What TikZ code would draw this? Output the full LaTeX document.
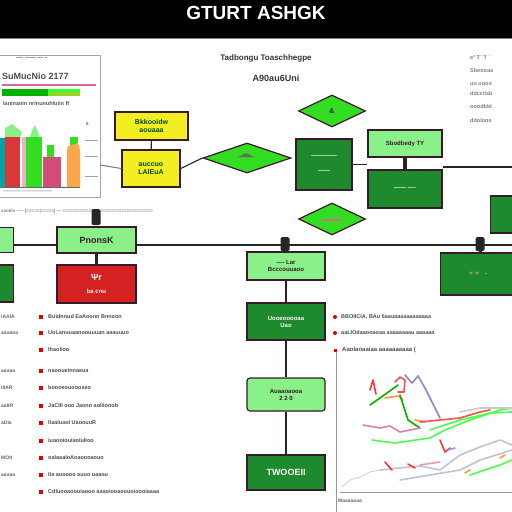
\documentclass[tikz,border=0pt]{standalone}
\usepackage{fontspec}
\setmainfont{Liberation Sans}
\usetikzlibrary{shapes.geometric}
\definecolor{dg}{HTML}{1E8A2E}
\definecolor{lg}{HTML}{8AF08A}
\definecolor{brg}{HTML}{33DD22}
\definecolor{yb}{HTML}{F2EE22}
\definecolor{rb}{HTML}{D42222}
\definecolor{bd}{HTML}{3A1A2A}
\definecolor{tx}{HTML}{555555}
\tikzset{
 darkbox/.style={draw=bd,line width=1.2pt,fill=dg,text=white!85!pink,font=\bfseries\fontsize{6}{7}\selectfont,align=center,inner sep=0pt},
 lightbox/.style={draw=bd,line width=1.2pt,fill=lg,text=bd,font=\bfseries\fontsize{6}{7}\selectfont,align=center,inner sep=0pt},
 yelbox/.style={draw=bd,line width=1.4pt,fill=yb,text=black!70!green,font=\bfseries\fontsize{7}{8}\selectfont,align=center,inner sep=0pt},
 redbox/.style={draw=bd,line width=1.2pt,fill=rb,text=white!85!pink,font=\bfseries\fontsize{6}{7}\selectfont,align=center,inner sep=0pt},
 dia/.style={diamond,draw=bd,line width=1.2pt,fill=brg,inner sep=0pt,aspect=2.7},
 conn/.style={draw=black!85,line width=1.1pt},
 smalltx/.style={text=tx,font=\bfseries\fontsize{5.5}{6}\selectfont,anchor=west,inner sep=0pt},
 bullet/.style={fill=red!90!black,minimum size=4pt,inner sep=0pt},
 tab/.style={fill=black!85,rounded corners=1.5pt,minimum width=9pt,minimum height=14pt,inner sep=0pt},
}
\begin{document}
\begin{tikzpicture}[x=1pt,y=-1pt]
\useasboundingbox (0,0) rectangle (512,512);
\fill[white] (0,0) rectangle (512,512);
% title band
\fill[black] (0,0) rectangle (512,38);
\draw[gray,line width=0.8pt] (0,38.5) -- (512,38.5);
\node[text=white,font=\bfseries\fontsize{19}{19}\selectfont] (title) at (256,13) {GTURT ASHGK};
% header text
\node[text=black!80,font=\bfseries\fontsize{8}{9}\selectfont] (h1) at (266,58) {Tadbongu Toaschhegpe};
\node[text=black!80,font=\bfseries\fontsize{9}{10}\selectfont] (h2) at (276,78) {A90au6Uni};
% top-left chart panel
\draw[gray!70,line width=0.8pt] (-1,55) rectangle (100,197);
\node[smalltx] (c1) at (16,59) {----  ------  --- --};
\node[smalltx,text=black!70,font=\bfseries\fontsize{9}{9}\selectfont] (c2) at (2,76) {SuMucNio 2177};
\fill[purple!60] (2,84) rectangle (96,86);
\fill[green!70!black] (2,89) rectangle (48,96);
\fill[green!80] (48,89) rectangle (80,96);
\fill[yellow!60!green] (50,92) rectangle (80,96);
\node[smalltx] (c3) at (3,104) {Ianinanin nrinunuhluiin ff};
\node[smalltx] (c4) at (86,124) {ε};
\draw[gray!70] (85,140) -- (98,140) (85,156) -- (98,156) (85,176) -- (98,176);
\fill[teal!70!cyan] (0,138) rectangle (5,187);
\fill[lg] (5,128) -- (12,124) -- (22,132) -- (20,138) -- (5,138) -- cycle;
\fill[rb!90] (5,137) rectangle (20,187);
\fill[purple!30] (22,137) rectangle (26,187);
\fill[lg] (30,138) -- (32,130) -- (35,125) -- (38,132) -- (40,138) -- cycle;
\fill[brg] (26,137) rectangle (42,187);
\fill[brg] (47,145) rectangle (54,157);
\fill[purple!70] (43,157) rectangle (61,187);
\fill[brg] (70,137) rectangle (78,145);
\fill[orange!70] (67,150) -- (68,146) -- (78,143) -- (80,150) -- (80,187) -- (67,187) -- cycle;
\draw[black!60] (0,187.5) -- (80,187.5);
\node[smalltx,font=\bfseries\fontsize{4}{4}\selectfont] (c5) at (3,192) {-------------------------------------};
% yellow boxes
\node[yelbox,minimum width=73pt,minimum height=28pt] (y1) at (151.5,126) {Bkkooidw\\aouaaa};
\node[yelbox,minimum width=58pt,minimum height=37pt] (y2) at (151,168.5) {auccuo\\LAlEuA};
\draw[conn] (y1) -- (y2);
\coordinate (pr) at (100,165);
\draw[conn,gray] (pr) -- (y2.west);
% diamonds
\node[dia,minimum width=88pt,minimum height=30pt] (d1) at (247,158) {};
\fill[bd!70] (238,157) -- (246,153) -- (254,157) -- cycle;
\node[dia,minimum width=67pt,minimum height=32pt,font=\bfseries\fontsize{7}{7}\selectfont,text=bd] (d2) at (332,111) {\&};
\node[dia,minimum width=67pt,minimum height=32pt] (d3) at (332,219) {};
\fill[purple!60] (322,219) rectangle (342,221);
\draw[conn] (y2.east) -- (d1.west);
% dark green square box
\node[darkbox,minimum width=56pt,minimum height=51pt] (g1) at (324,164.5) {-------------\\[8pt]------};
% right top boxes
\node[lightbox,minimum width=74pt,minimum height=27pt] (l1) at (405,143.5) {Sbodbedy TY};
\node[darkbox,minimum width=74pt,minimum height=38pt] (g2) at (405,189) {------ ----};
\draw[bd,line width=4pt] (l1.south) -- (g2.north);
\coordinate (rt) at (512,167);
\draw[conn] (g1.east) -- (g2.west |- g1.east);
\draw[conn] (g2.north east |- rt) -- (rt);
\node[darkbox,minimum width=30pt,minimum height=37pt,anchor=west] (g3) at (490,214.5) {};
% top right text
\node[smalltx,text=gray] (r1) at (470,57) {e˟ T˙˙T ˙};
\node[smalltx,text=gray] (r2) at (470,71) {Sbeooaa};
\node[smalltx,text=gray] (r3) at (470,84) {uo uooo};
\node[smalltx,text=gray] (r4) at (470,94) {ddcciisb};
\node[smalltx,text=gray] (r5) at (470,107) {ooodbbl};
\node[smalltx,text=gray] (r6) at (470,121) {ddoIoos};
% grey line of text
\node[smalltx,text=gray,font=\bfseries\fontsize{4.5}{5}\selectfont] (gl) at (1,211) {ssoliin ----- [=====|=====]  --- ==============  ====================};
% main horizontal line
\coordinate (ml) at (0,245);
\coordinate (mr) at (512,245);
\draw[conn] (ml) -- (mr);
\node[tab,minimum height=16pt] (t1) at (96,217) {};
\node[tab] (t2) at (285,244) {};
\node[tab] (t3) at (480,244) {};
% left column
\node[lightbox,minimum width=14pt,minimum height=25pt,anchor=west] (l0) at (-1,240) {};
\node[darkbox,minimum width=14pt,minimum height=37pt,anchor=west] (g0) at (-1,283.5) {};
\node[lightbox,minimum width=79pt,minimum height=26pt,font=\bfseries\fontsize{9}{9}\selectfont] (l2) at (96.5,240) {PnonsK};
\node[redbox,minimum width=79pt,minimum height=38pt] (r0) at (96.5,284) {{\fontsize{9}{9}\selectfont Ψr}\\[6pt]ba cnu};
\draw[bd,line width=3pt] (l2.south) -- (r0.north);
% center column
\node[lightbox,minimum width=78pt,minimum height=28pt] (l3) at (286,266) {---- Lar\\Bcccouuaoo};
\node[darkbox,minimum width=78pt,minimum height=37pt] (g4) at (286,321.5) {Uooeooooaa\\Uao};
\node[lightbox,minimum width=78pt,minimum height=33pt,rounded corners=3pt,text=bd] (l4) at (286,394.5) {Auaaoaooa\\2 2 0};
\node[darkbox,minimum width=78pt,minimum height=35pt,font=\bfseries\fontsize{9}{9}\selectfont] (g5) at (286,472.5) {TWOOEII};
\draw[bd,line width=2.5pt] (t2) -- (l3.north);
\draw[bd,line width=2.5pt] (l3.south) -- (g4.north);
\draw[bd,line width=1.5pt] (g4.south) -- (l4.north);
\draw[bd,line width=1.5pt] (l4.south) -- (g5.north);
% right box
\node[darkbox,minimum width=75pt,minimum height=42pt,anchor=west] (g6) at (440,274) {\textcolor{pink!80!gray}{=\;\,=\quad -}};
\draw[bd,line width=3pt] (t3) -- (g6.north -| t3);
% bullets left
\foreach \y/\t [count=\i] in {317/Buidnnud  EaAoonn Bnnoon,333/UoLanuuaanoouuuan aaauuuo,350/Ihaolioo,371/naooueinnaeua,388/boooeouoooaso,406/JaCIII ooo  Jaono aoliionob,423/IIaaluaoI UaoouuR,441/iuaooiouiaoIuIIoo,458/oaIaaaIoAoaoooaouo,475/IIa auoooo  auuo uaaou,492/Cdluooaoouiaooo aaaoiooaoouoioooiaaaa}{
 \node[bullet] (b\i) at (41,\y) {};
 \node[smalltx,text=black!70] (bt\i) at (48,\y) {\t};
}
\foreach \y/\t [count=\i] in {317/IAAIA,333/aaaana,371/aaaaa,388/IIIAR,406/aaIIR,423/aDIa,458/MOIt,475/aaaaa}{
 \node[smalltx,text=black!60,font=\bfseries\fontsize{5}{5}\selectfont] (lt\i) at (1,\y) {\t};
}
% bullets right
\node[circle,fill=red!90!black,minimum size=4pt,inner sep=0pt] (rb1) at (335,317) {};
\node[smalltx,text=black!70] (rbt1) at (341,317) {BBOIICIA, BAu 6aauaaaaaaaaaaaa};
\node[circle,fill=red!90!black,minimum size=4pt,inner sep=0pt] (rb2) at (335,333) {};
\node[smalltx,text=black!70] (rbt2) at (341,333) {aaLIOdaaooaoaa aaaaaaaau aaaaaa};
\node[bullet,minimum size=3pt] (rb3) at (335,350) {};
\node[smalltx,text=black!70,font=\bfseries\fontsize{6}{6}\selectfont] (rbt3) at (342,350) {Aaolaoaaiaa aaaaaaaaaa  (};
% chart panel
\draw[gray!80,line width=0.8pt] (336,352) -- (336,512);
\draw[gray!80,line width=0.8pt] (340,492) -- (512,492);
\node[smalltx,text=black!60,font=\bfseries\fontsize{5}{5}\selectfont] (ax) at (338,501) {Maaaaaaa};
\begin{scope}[line width=1.6pt,line join=round,line cap=round]
\draw[red!80] (370,390) -- (373,380) -- (376,394);
\draw[red!70] (395,382) -- (400,377) -- (405,380) -- (404,392) -- (398,392);
\draw[blue!30!gray!70] (405,375) -- (412,383) -- (418,376) -- (425,388) -- (440,418);
\draw[green!70!black] (370,405) -- (380,398) -- (398,385);
\draw[orange!80] (385,398) -- (398,396) -- (403,400);
\draw[green!70!black] (400,395) -- (408,420) -- (420,428);
\draw[orange!80] (415,420) -- (425,422);
\draw[purple!50] (363,425) -- (380,428) -- (390,426) -- (400,432) -- (420,428);
\draw[green!70] (372,440) -- (395,443) -- (430,438) -- (445,430) -- (470,420) -- (500,410) -- (512,408);
\draw[red!70] (420,422) -- (440,420) -- (460,418) -- (480,412) -- (490,410);
\draw[gray!40] (460,412) -- (480,408) -- (512,408);
\draw[green!70] (430,430) -- (460,420) -- (490,413) -- (512,412);
\draw[red!80] (440,440) -- (445,452) -- (450,448);
\draw[blue!40] (448,450) -- (455,448);
\draw[blue!20!gray!40] (380,470) -- (400,468) -- (420,466) -- (440,470) -- (460,455) -- (480,447) -- (500,440) -- (512,445);
\draw[blue!20!gray!40] (400,480) -- (430,475) -- (460,470) -- (480,460) -- (512,450);
\draw[green!70] (470,475) -- (485,470) -- (500,465) -- (512,460);
\draw[orange!80] (465,473) -- (470,470) (500,458) -- (505,455);
\draw[red!80] (385,462) -- (392,470) (408,464) -- (415,468);
\draw[purple!40] (420,465) -- (440,462);
\draw[blue!20!gray!40,line width=0.6pt] (342,487) -- (350,480) -- (360,477) -- (370,472) -- (380,470);
\end{scope}
\end{tikzpicture}
\end{document}
